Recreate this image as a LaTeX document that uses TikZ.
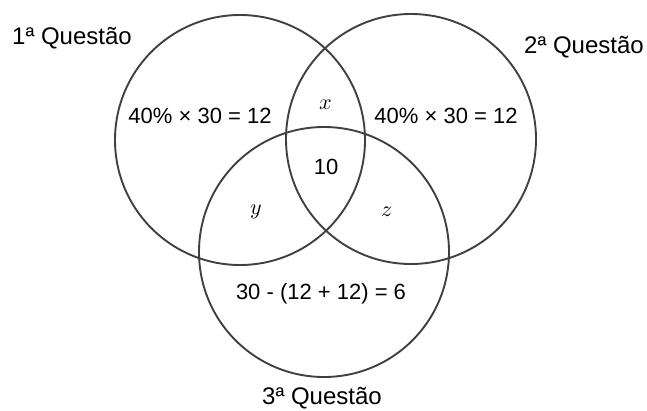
\documentclass[tikz,border=0pt]{standalone}
\usepackage{fontspec}
\usepackage{unicode-math}
\setmainfont{Liberation Sans}
\setmathfont{Latin Modern Math}
\usepackage{tikz}

\begin{document}
\begin{tikzpicture}[x=1pt,y=-1pt]
 \tikzstyle{set}=[draw=black!75,line width=1.9pt,circle,minimum size=250pt,inner sep=0pt]
 \tikzstyle{lbl}=[font=\fontsize{22}{26}\selectfont,inner sep=0pt]
 \tikzstyle{setname}=[font=\fontsize{24}{28}\selectfont,inner sep=0pt]
 \useasboundingbox (0,0) rectangle (647,410);
  % the three sets
  \node[set] at (240,140) (Q1) {};
  \node[set] at (411,139) (Q2) {};
  \node[set] at (324,252) (Q3) {};
  % set names
  \node[setname] at (72,38) (N1) {1ª Questão};
  \node[setname] at (584,47) (N2) {2ª Questão};
  \node[setname] at (322,398) (N3) {3ª Questão};
  % regions
  \node[lbl] at (200,116) (R1) {40\% × 30 = 12};
  \node[lbl] at (446,116) (R2) {40\% × 30 = 12};
  \node[lbl] at (321,294) (R3) {30 - (12 + 12) = 6};
  \node[lbl] at (326,105) (X) {$x$};
  \node[lbl] at (326,167) (C) {10};
  \node[lbl] at (256,212) (Y) {$y$};
  \node[lbl] at (387,212) (Z) {$z$};
\end{tikzpicture}
\end{document}
